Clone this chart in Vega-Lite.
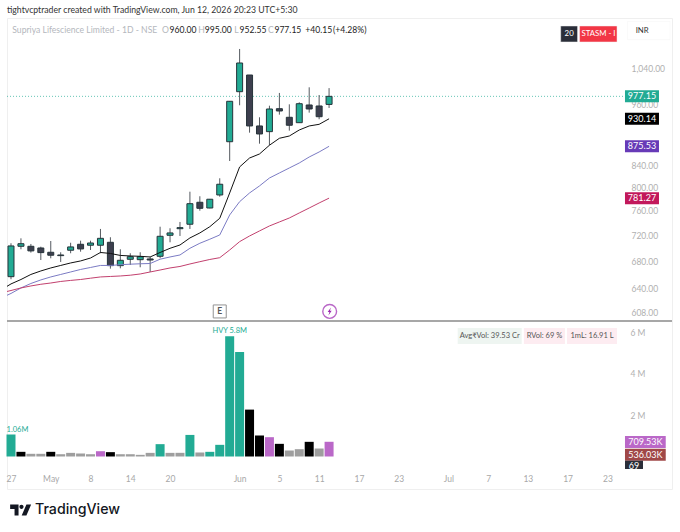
{
  "$schema": "https://vega.github.io/schema/vega-lite/v6.json",
  "width": 665,
  "height": 471,
  "padding": {"left": 7, "top": 18, "right": 8, "bottom": 43},
  "autosize": {"type": "none"},
  "background": "white",
  "title": {"text": "tightvcptrader created with TradingView.com, Jun 12, 2026 20:23 UTC+5:30", "anchor": "start", "frame": "group", "fontSize": 8.7, "fontWeight": "normal", "color": "#333333", "offset": 3},
  "config": {"view": {"stroke": "#efefef"}, "font": "Lato"},
  "datasets": {
    "candles": [
      {"i":0,"o":657.4,"h":707.5,"l":653.7,"c":703.3,"dir":"up"},
      {"i":1,"o":702.8,"h":715.2,"l":698.2,"c":706.8,"dir":"up"},
      {"i":2,"o":702.8,"h":706.4,"l":693.1,"c":695.7,"dir":"down"},
      {"i":3,"o":700.2,"h":702.2,"l":681.9,"c":693.1,"dir":"down"},
      {"i":4,"o":693.6,"h":711.0,"l":684.5,"c":689.1,"dir":"down"},
      {"i":5,"o":689.5,"h":693.6,"l":679.0,"c":688.5,"dir":"down"},
      {"i":6,"o":696.7,"h":708.3,"l":692.1,"c":701.8,"dir":"up"},
      {"i":7,"o":705.9,"h":711.5,"l":694.5,"c":698.7,"dir":"down"},
      {"i":8,"o":704.4,"h":711.5,"l":697.1,"c":707.9,"dir":"up"},
      {"i":9,"o":704.4,"h":730.1,"l":692.1,"c":715.2,"dir":"up"},
      {"i":10,"o":709.0,"h":716.9,"l":669.1,"c":673.5,"dir":"down"},
      {"i":11,"o":673.5,"h":698.2,"l":669.6,"c":681.5,"dir":"up"},
      {"i":12,"o":683.0,"h":692.1,"l":674.5,"c":686.9,"dir":"up"},
      {"i":13,"o":682.4,"h":693.6,"l":671.1,"c":686.9,"dir":"up"},
      {"i":14,"o":683.5,"h":686.9,"l":664.2,"c":681.9,"dir":"down"},
      {"i":15,"o":687.5,"h":733.7,"l":684.5,"c":718.4,"dir":"up"},
      {"i":16,"o":720.0,"h":731.2,"l":709.0,"c":723.7,"dir":"up"},
      {"i":17,"o":730.5,"h":741.4,"l":718.9,"c":732.2,"dir":"up"},
      {"i":18,"o":737.7,"h":792.4,"l":730.1,"c":771.8,"dir":"up"},
      {"i":19,"o":774.2,"h":784.5,"l":760.0,"c":764.0,"dir":"down"},
      {"i":20,"o":764.5,"h":779.8,"l":764.0,"c":779.4,"dir":"up"},
      {"i":21,"o":786.7,"h":816.1,"l":783.7,"c":805.5,"dir":"up"},
      {"i":22,"o":884.4,"h":967.2,"l":847.7,"c":966.6,"dir":"up"},
      {"i":23,"o":987.2,"h":1084.4,"l":958.2,"c":1051.5,"dir":"up"},
      {"i":24,"o":1024.1,"h":1024.1,"l":902.2,"c":915.6,"dir":"down"},
      {"i":25,"o":915.6,"h":933.2,"l":880.6,"c":899.6,"dir":"down"},
      {"i":26,"o":904.2,"h":957.3,"l":877.6,"c":950.4,"dir":"up"},
      {"i":27,"o":951.0,"h":984.5,"l":938.6,"c":946.2,"dir":"down"},
      {"i":28,"o":933.2,"h":960.2,"l":906.2,"c":917.0,"dir":"down"},
      {"i":29,"o":922.2,"h":964.5,"l":922.2,"c":961.5,"dir":"up"},
      {"i":30,"o":958.8,"h":996.8,"l":942.8,"c":950.4,"dir":"down"},
      {"i":31,"o":956.7,"h":980.1,"l":929.2,"c":934.4,"dir":"down"},
      {"i":32,"o":960.0,"h":995.0,"l":952.55,"c":977.15,"dir":"up"}
    ],
    "averages": [
      {"i":-1,"ma":"fast","price":638.5},{"i":0,"ma":"fast","price":647.0},{"i":1,"ma":"fast","price":653.3},{"i":2,"ma":"fast","price":660.6},{"i":3,"ma":"fast","price":665.7},{"i":4,"ma":"fast","price":670.1},{"i":5,"ma":"fast","price":673.8},{"i":6,"ma":"fast","price":677.5},{"i":7,"ma":"fast","price":680.5},{"i":8,"ma":"fast","price":684.9},{"i":9,"ma":"fast","price":693.3},{"i":10,"ma":"fast","price":691.8},{"i":11,"ma":"fast","price":688.8},{"i":12,"ma":"fast","price":688.0},{"i":13,"ma":"fast","price":687.5},{"i":14,"ma":"fast","price":686.5},{"i":15,"ma":"fast","price":693.3},{"i":16,"ma":"fast","price":699.7},{"i":17,"ma":"fast","price":704.8},{"i":18,"ma":"fast","price":715.8},{"i":19,"ma":"fast","price":723.7},{"i":20,"ma":"fast","price":733.7},{"i":21,"ma":"fast","price":747.4},{"i":22,"ma":"fast","price":790.2},{"i":23,"ma":"fast","price":836.7},{"i":24,"ma":"fast","price":853.3},{"i":25,"ma":"fast","price":860.9},{"i":26,"ma":"fast","price":877.6},{"i":27,"ma":"fast","price":891.1},{"i":28,"ma":"fast","price":895.6},{"i":29,"ma":"fast","price":907.5},{"i":30,"ma":"fast","price":915.6},{"i":31,"ma":"fast","price":918.9},{"i":32,"ma":"fast","price":930.14},
      {"i":-1,"ma":"mid","price":627.3},{"i":0,"ma":"mid","price":633.6},{"i":1,"ma":"mid","price":641.3},{"i":2,"ma":"mid","price":647.6},{"i":3,"ma":"mid","price":652.7},{"i":4,"ma":"mid","price":657.0},{"i":5,"ma":"mid","price":660.6},{"i":6,"ma":"mid","price":664.2},{"i":7,"ma":"mid","price":667.9},{"i":8,"ma":"mid","price":670.8},{"i":9,"ma":"mid","price":673.8},{"i":10,"ma":"mid","price":673.8},{"i":11,"ma":"mid","price":674.9},{"i":12,"ma":"mid","price":675.7},{"i":13,"ma":"mid","price":676.3},{"i":14,"ma":"mid","price":676.7},{"i":15,"ma":"mid","price":683.1},{"i":16,"ma":"mid","price":686.5},{"i":17,"ma":"mid","price":689.5},{"i":18,"ma":"mid","price":699.7},{"i":19,"ma":"mid","price":707.5},{"i":20,"ma":"mid","price":713.8},{"i":21,"ma":"mid","price":720.5},{"i":22,"ma":"mid","price":752.9},{"i":23,"ma":"mid","price":775.2},{"i":24,"ma":"mid","price":790.2},{"i":25,"ma":"mid","price":802.5},{"i":26,"ma":"mid","price":816.6},{"i":27,"ma":"mid","price":825.7},{"i":28,"ma":"mid","price":834.8},{"i":29,"ma":"mid","price":844.0},{"i":30,"ma":"mid","price":855.2},{"i":31,"ma":"mid","price":864.7},{"i":32,"ma":"mid","price":875.53},
      {"i":-1,"ma":"slow","price":634.3},{"i":0,"ma":"slow","price":637.7},{"i":1,"ma":"slow","price":641.3},{"i":2,"ma":"slow","price":644.1},{"i":3,"ma":"slow","price":646.5},{"i":4,"ma":"slow","price":648.3},{"i":5,"ma":"slow","price":650.5},{"i":6,"ma":"slow","price":652.0},{"i":7,"ma":"slow","price":653.3},{"i":8,"ma":"slow","price":655.2},{"i":9,"ma":"slow","price":657.0},{"i":10,"ma":"slow","price":657.7},{"i":11,"ma":"slow","price":658.4},{"i":12,"ma":"slow","price":659.5},{"i":13,"ma":"slow","price":661.3},{"i":14,"ma":"slow","price":664.2},{"i":15,"ma":"slow","price":667.1},{"i":16,"ma":"slow","price":670.1},{"i":17,"ma":"slow","price":672.3},{"i":18,"ma":"slow","price":676.0},{"i":19,"ma":"slow","price":679.4},{"i":20,"ma":"slow","price":682.7},{"i":21,"ma":"slow","price":685.4},{"i":22,"ma":"slow","price":697.1},{"i":23,"ma":"slow","price":710.0},{"i":24,"ma":"slow","price":718.9},{"i":25,"ma":"slow","price":726.9},{"i":26,"ma":"slow","price":734.9},{"i":27,"ma":"slow","price":741.4},{"i":28,"ma":"slow","price":747.9},{"i":29,"ma":"slow","price":756.2},{"i":30,"ma":"slow","price":764.5},{"i":31,"ma":"slow","price":773.0},{"i":32,"ma":"slow","price":781.27}
    ],
    "volume": [
      {"i":0,"vol":1060000,"kind":"heavy"},{"i":1,"vol":225000,"kind":"sell"},{"i":2,"vol":130000,"kind":"quiet"},{"i":3,"vol":130000,"kind":"quiet"},{"i":4,"vol":225000,"kind":"sell"},{"i":5,"vol":110000,"kind":"quiet"},{"i":6,"vol":175000,"kind":"quiet"},{"i":7,"vol":145000,"kind":"quiet"},{"i":8,"vol":110000,"kind":"quiet"},{"i":9,"vol":255000,"kind":"pocket"},{"i":10,"vol":210000,"kind":"sell"},{"i":11,"vol":110000,"kind":"quiet"},{"i":12,"vol":110000,"kind":"quiet"},{"i":13,"vol":80000,"kind":"quiet"},{"i":14,"vol":175000,"kind":"quiet"},{"i":15,"vol":595000,"kind":"heavy"},{"i":16,"vol":175000,"kind":"quiet"},{"i":17,"vol":177000,"kind":"quiet"},{"i":18,"vol":1040000,"kind":"heavy"},{"i":19,"vol":193000,"kind":"quiet"},{"i":20,"vol":225000,"kind":"heavy"},{"i":21,"vol":562000,"kind":"heavy"},{"i":22,"vol":5800000,"kind":"heavy"},{"i":23,"vol":5040000,"kind":"heavy"},{"i":24,"vol":2260000,"kind":"sell"},{"i":25,"vol":1010000,"kind":"sell"},{"i":26,"vol":931000,"kind":"pocket"},{"i":27,"vol":610000,"kind":"sell"},{"i":28,"vol":289000,"kind":"quiet"},{"i":29,"vol":353000,"kind":"quiet"},{"i":30,"vol":707000,"kind":"sell"},{"i":31,"vol":385000,"kind":"quiet"},{"i":32,"vol":709530,"kind":"pocket"}
    ],
    "priceTags": [
      {"i":63.48,"name":"close","price":977.15},
      {"i":63.48,"name":"fast","price":930.14},
      {"i":63.48,"name":"mid","price":875.53},
      {"i":63.48,"name":"slow","price":781.27}
    ],
    "legendLine": [
      {"i":0.13,"text":"Supriya Lifescience Limited - 1D - NSE","part":"muted","price":1131.8},
      {"i":15.2,"text":"O","part":"muted","price":1131.8},
      {"i":15.95,"text":"960.00","part":"value","price":1131.8},
      {"i":18.85,"text":"H","part":"muted","price":1131.8},
      {"i":19.5,"text":"995.00","part":"value","price":1131.8},
      {"i":22.45,"text":"L","part":"muted","price":1131.8},
      {"i":23.0,"text":"952.55","part":"value","price":1131.8},
      {"i":25.85,"text":"C","part":"muted","price":1131.8},
      {"i":26.5,"text":"977.15","part":"value","price":1131.8},
      {"i":29.6,"text":"+40.15","part":"value","price":1131.8},
      {"i":32.4,"text":"(+4.28%)","part":"value","price":1131.8}
    ],
    "badges": [
      {"i":55.3,"to":57.0,"price":1140.6,"price2":1101.2,"name":"period"},
      {"i":57.2,"to":60.97,"price":1140.6,"price2":1101.2,"name":"stage"},
      {"i":62.02,"to":66.3,"price":1152,"price2":1107,"name":"currency"}
    ],
    "badgeText": [
      {"i":56.15,"price":1120.9,"text":"20","name":"period"},
      {"i":59.1,"price":1120.9,"text":"STASM - I","name":"stage"},
      {"i":63.5,"price":1129,"text":"INR","name":"currency"}
    ],
    "closeLine": [{"i":-0.4,"to":61.8,"price":977.15}],
    "eventE": [{"i":21,"price":609,"text":"E"}],
    "eventBolt": [{"i":32.06,"price":609}],
    "divider": [{"i":-0.4,"to":66.5,"vol":6530000}],
    "volNotes": [
      {"i":0.65,"vol":1060000,"text":"1.06M"},
      {"i":22,"vol":5800000,"text":"HVY 5.8M"}
    ],
    "statBoxes": [
      {"i":44.94,"to":51.38,"vol":6193000,"vol2":5420000,"name":"avg"},
      {"i":51.6,"to":55.73,"vol":6193000,"vol2":5420000,"name":"rvol"},
      {"i":55.94,"to":60.97,"vol":6193000,"vol2":5420000,"name":"liq"}
    ],
    "statText": [
      {"i":48.16,"vol":5807000,"text":"Avg₹Vol: 39.53 Cr"},
      {"i":53.67,"vol":5807000,"text":"RVol: 69 %"},
      {"i":58.45,"vol":5807000,"text":"1mL: 16.91 L"}
    ],
    "volTags": [
      {"i":61.77,"to":65.87,"vol":988000,"vol2":410000,"name":"vol"},
      {"i":61.77,"to":65.87,"vol":376000,"vol2":-202000,"name":"avg"},
      {"i":61.77,"to":63.58,"vol":-202000,"vol2":-602000,"name":"rsi"}
    ],
    "volTagText": [
      {"i":63.82,"vol":684000,"text":"709.53K"},
      {"i":63.82,"vol":87000,"text":"536.03K"},
      {"i":62.68,"vol":-458000,"text":"69"}
    ],
    "logo": [{"i":0.97,"vol":-2578000}],
    "wordmark": [{"i":2.41,"vol":-2578000,"text":"TradingView"}]
  },
  "encoding": {
    "x": {
      "field": "i",
      "type": "quantitative",
      "title": null,
      "scale": {"domain": [-0.4024, 66.5], "nice": false, "zero": false, "padding": 0},
      "axis": {
        "values": [0, 4, 8, 12, 16, 23, 27, 31, 35, 39, 44, 48, 52, 56, 60],
        "labelExpr": "{'0':'27','4':'May','8':'8','12':'14','16':'20','23':'Jun','27':'5','31':'11','35':'17','39':'23','44':'Jul','48':'7','52':'13','56':'17','60':'23'}[datum.value]",
        "orient": "bottom",
        "offset": -15,
        "grid": false,
        "domain": false,
        "ticks": false,
        "labelPadding": 0,
        "labelColor": "#a8a8a8",
        "labelFontSize": 8.5,
        "labelOverlap": false
      }
    }
  },
  "layer": [
    {
      "encoding": {
        "y": {
          "field": "price",
          "type": "quantitative",
          "title": null,
          "scale": {"type": "log", "domain": [608, 1040], "range": [294.2, 50], "nice": false},
          "axis": {"orient": "right", "offset": -41, "values": [608, 640, 680, 720, 760, 800, 840, 960, 1040], "format": ",.2f", "grid": false, "domain": false, "ticks": false, "labelPadding": 0, "labelColor": "#b0b0b0", "labelFontSize": 8.5}
        }
      },
      "layer": [
        {
          "data": {"name": "closeLine"},
          "mark": {"type": "rule", "color": "#22ab94", "strokeDash": [1, 2], "strokeWidth": 1, "opacity": 0.7},
          "encoding": {"x2": {"field": "to"}}
        },
        {
          "data": {"name": "candles"},
          "mark": {"type": "rule", "color": "#555a60", "strokeWidth": 1},
          "encoding": {
            "y": {"field": "l", "type": "quantitative", "title": null, "scale": {"type": "log", "domain": [608, 1040], "range": [294.2, 50], "nice": false}, "axis": {"orient": "right", "offset": -41, "values": [608, 640, 680, 720, 760, 800, 840, 960, 1040], "format": ",.2f", "grid": false, "domain": false, "ticks": false, "labelPadding": 0, "labelColor": "#b0b0b0", "labelFontSize": 8.5}},
            "y2": {"field": "h"}
          }
        },
        {
          "data": {"name": "candles"},
          "mark": {"type": "bar", "width": 6, "stroke": "#26333a", "strokeWidth": 1},
          "encoding": {
            "y": {"field": "o", "type": "quantitative", "title": null, "scale": {"type": "log", "domain": [608, 1040], "range": [294.2, 50], "nice": false}, "axis": {"orient": "right", "offset": -41, "values": [608, 640, 680, 720, 760, 800, 840, 960, 1040], "format": ",.2f", "grid": false, "domain": false, "ticks": false, "labelPadding": 0, "labelColor": "#b0b0b0", "labelFontSize": 8.5}},
            "y2": {"field": "c"},
            "color": {"condition": {"test": "datum.dir == 'up'", "value": "#22ab94"}, "value": "#3d3f4e"}
          }
        },
        {
          "data": {"name": "averages"},
          "mark": {"type": "line", "strokeWidth": 1, "clip": true},
          "encoding": {
            "detail": {"field": "ma"},
            "stroke": {"condition": [{"test": "datum.ma == 'fast'", "value": "#111111"}, {"test": "datum.ma == 'mid'", "value": "#7b7bc4"}], "value": "#c2406e"}
          }
        },
        {
          "data": {"name": "priceTags"},
          "mark": {"type": "tick", "orient": "horizontal", "size": 34, "thickness": 12, "opacity": 1},
          "encoding": {
            "color": {"condition": [{"test": "datum.name == 'close'", "value": "#22ab94"}, {"test": "datum.name == 'fast'", "value": "#000000"}, {"test": "datum.name == 'mid'", "value": "#673ab7"}], "value": "#c2185b"}
          }
        },
        {
          "data": {"name": "priceTags"},
          "mark": {"type": "text", "color": "white", "fontSize": 9, "align": "center", "baseline": "middle"},
          "encoding": {"text": {"field": "price", "type": "quantitative", "format": ".2f"}}
        },
        {
          "data": {"name": "legendLine"},
          "mark": {"type": "text", "fontSize": 8.6, "align": "left", "baseline": "middle"},
          "encoding": {
            "text": {"field": "text"},
            "color": {"condition": {"test": "datum.part == 'muted'", "value": "#b4b7bd"}, "value": "#222222"}
          }
        },
        {
          "data": {"name": "badges"},
          "mark": {"type": "rect", "stroke": "#f4f4f4", "strokeWidth": 0.5},
          "encoding": {
            "y": {"field": "price", "type": "quantitative", "title": null, "scale": {"type": "log", "domain": [608, 1040], "range": [294.2, 50], "nice": false}, "axis": {"orient": "right", "offset": -41, "values": [608, 640, 680, 720, 760, 800, 840, 960, 1040], "format": ",.2f", "grid": false, "domain": false, "ticks": false, "labelPadding": 0, "labelColor": "#b0b0b0", "labelFontSize": 8.5}},
            "y2": {"field": "price2"},
            "x2": {"field": "to"},
            "color": {"condition": [{"test": "datum.name == 'period'", "value": "#2a2e39"}, {"test": "datum.name == 'stage'", "value": "#f23645"}], "value": "#ffffff"}
          }
        },
        {
          "data": {"name": "badgeText"},
          "mark": {"type": "text", "align": "center", "baseline": "middle", "fontSize": 7.8},
          "encoding": {
            "text": {"field": "text"},
            "color": {"condition": {"test": "datum.name == 'currency'", "value": "#333333"}, "value": "#ffffff"}
          }
        },
        {
          "data": {"name": "eventE"},
          "mark": {"type": "point", "shape": "square", "size": 169, "filled": false, "stroke": "#666666", "strokeWidth": 1}
        },
        {
          "data": {"name": "eventE"},
          "mark": {"type": "text", "fontSize": 8.5, "fontWeight": "bold", "color": "#555555", "align": "center", "baseline": "middle"},
          "encoding": {"text": {"field": "text"}}
        },
        {
          "data": {"name": "eventBolt"},
          "mark": {"type": "point", "shape": "circle", "size": 190, "filled": false, "stroke": "#9c27b0", "strokeWidth": 1.4}
        },
        {
          "data": {"name": "eventBolt"},
          "mark": {"type": "point", "shape": "M0.25,-0.8L-0.4,0.12H-0.05L-0.25,0.8L0.4,-0.12H0.05Z", "size": 100, "filled": true, "color": "#9c27b0", "opacity": 1}
        }
      ]
    },
    {
      "encoding": {
        "y": {
          "field": "vol",
          "type": "quantitative",
          "title": null,
          "scale": {"domain": [0, 6000000], "range": [438.5, 314], "nice": false},
          "axis": {"orient": "right", "offset": -42, "values": [2000000, 4000000, 6000000], "labelExpr": "datum.value / 1000000 + ' M'", "grid": false, "domain": false, "ticks": false, "labelPadding": 0, "labelColor": "#b0b0b0", "labelFontSize": 8.5}
        }
      },
      "layer": [
        {
          "data": {"name": "divider"},
          "mark": {"type": "rule", "color": "#8a8a8a", "strokeWidth": 1.5},
          "encoding": {"x2": {"field": "to"}}
        },
        {
          "data": {"name": "volume"},
          "mark": {"type": "bar", "width": 9},
          "encoding": {
            "color": {"condition": [{"test": "datum.kind == 'heavy'", "value": "#22ab94"}, {"test": "datum.kind == 'sell'", "value": "#000000"}, {"test": "datum.kind == 'pocket'", "value": "#ba68c8"}], "value": "#9e9e9e"}
          }
        },
        {
          "data": {"name": "volNotes"},
          "mark": {"type": "text", "color": "#22ab94", "fontSize": 7.5, "align": "center", "baseline": "bottom", "dy": -1},
          "encoding": {"text": {"field": "text"}}
        },
        {
          "data": {"name": "statBoxes"},
          "mark": {"type": "rect"},
          "encoding": {
            "x2": {"field": "to"},
            "y2": {"field": "vol2"},
            "color": {"condition": {"test": "datum.name == 'avg'", "value": "#eef5f1"}, "value": "#fdecf1"}
          }
        },
        {
          "data": {"name": "statText"},
          "mark": {"type": "text", "color": "#555555", "fontSize": 7.5, "align": "center", "baseline": "middle"},
          "encoding": {"text": {"field": "text"}}
        },
        {
          "data": {"name": "volTags"},
          "mark": {"type": "rect"},
          "encoding": {
            "x2": {"field": "to"},
            "y2": {"field": "vol2"},
            "color": {"condition": [{"test": "datum.name == 'vol'", "value": "#ba68c8"}, {"test": "datum.name == 'avg'", "value": "#a04848"}], "value": "#2a2e39"}
          }
        },
        {
          "data": {"name": "volTagText"},
          "mark": {"type": "text", "color": "white", "fontSize": 9, "align": "center", "baseline": "middle"},
          "encoding": {"text": {"field": "text"}}
        },
        {
          "data": {"name": "logo"},
          "mark": {"type": "point", "shape": "M-1,-0.52H-0.2V0.52H-0.58V-0.1H-1ZM-0.12,-0.3A0.2,0.2 0 1 1 0.28,-0.3A0.2,0.2 0 1 1 -0.12,-0.3ZM0.55,-0.52H1L0.55,0.52H0.1Z", "size": 441, "filled": true, "color": "#131722", "opacity": 1}
        },
        {
          "data": {"name": "wordmark"},
          "mark": {"type": "text", "font": "Inter", "fontWeight": 500, "fontSize": 14.2, "color": "#131722", "align": "left", "baseline": "middle"},
          "encoding": {"text": {"field": "text"}}
        }
      ]
    }
  ],
  "resolve": {"scale": {"y": "independent"}}
}
